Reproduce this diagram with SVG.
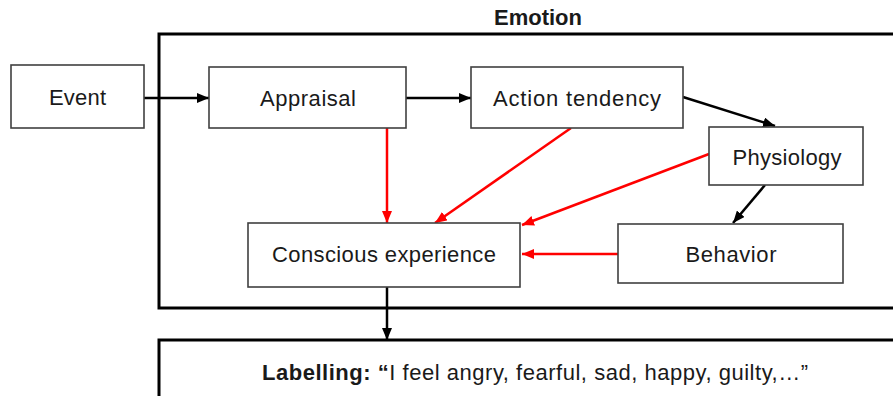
<svg xmlns="http://www.w3.org/2000/svg" width="893" height="396" viewBox="0 0 893 396">
<style>
.node{fill:#fff;stroke:#404040;stroke-width:1.6}
.frame{fill:none;stroke:#000;stroke-width:3}
.t{font-family:"Liberation Sans",Arial,sans-serif;font-size:22px;fill:#1a1a1a;text-anchor:middle}
.b{font-weight:bold}
.k{fill:none;stroke:#000;stroke-width:2.5}
.r{fill:none;stroke:#ff0000;stroke-width:2.5}
</style>
<defs>
<marker id="ak" viewBox="0 0 12 10" refX="12" refY="5" markerWidth="12" markerHeight="10" markerUnits="userSpaceOnUse" orient="auto"><path d="M0,0 L12,5 L0,10 z" fill="#000"/></marker>
<marker id="ar" viewBox="0 0 12 10" refX="12" refY="5" markerWidth="12" markerHeight="10" markerUnits="userSpaceOnUse" orient="auto"><path d="M0,0 L12,5 L0,10 z" fill="#ff0000"/></marker>
</defs>
<g id="emotion">
<rect class="frame" x="159" y="34" width="760" height="274"/>
<text class="t b" x="538" y="25" textLength="88">Emotion</text>
</g>
<g id="labelling">
<rect class="frame" x="159" y="340" width="760" height="80"/>
<text class="t" x="535" y="380" textLength="546"><tspan class="b">Labelling: “</tspan>I feel angry, fearful, sad, happy, guilty,…”</text>
</g>
<g id="connectors">
<line class="k" x1="144" y1="98" x2="209" y2="98" marker-end="url(#ak)"/>
<line class="k" x1="406" y1="98" x2="471" y2="98" marker-end="url(#ak)"/>
<line class="k" x1="683" y1="97" x2="775" y2="126" marker-end="url(#ak)"/>
<line class="k" x1="765" y1="185" x2="733" y2="223" marker-end="url(#ak)"/>
<line class="k" x1="387" y1="287" x2="387" y2="340" marker-end="url(#ak)"/>
<line class="r" x1="387" y1="128" x2="387" y2="223" marker-end="url(#ar)"/>
<line class="r" x1="571" y1="128" x2="435" y2="223" marker-end="url(#ar)"/>
<line class="r" x1="709" y1="154" x2="522" y2="225" marker-end="url(#ar)"/>
<line class="r" x1="618" y1="254" x2="522" y2="254" marker-end="url(#ar)"/>
</g>
<g id="event">
<rect class="node" x="11" y="65" width="133" height="63"/>
<text class="t" x="77.5" y="105" textLength="57">Event</text>
</g>
<g id="appraisal">
<rect class="node" x="209" y="67" width="197" height="61"/>
<text class="t" x="308" y="106" textLength="96">Appraisal</text>
</g>
<g id="action-tendency">
<rect class="node" x="471" y="67" width="212" height="61"/>
<text class="t" x="577" y="106" textLength="168">Action tendency</text>
</g>
<g id="physiology">
<rect class="node" x="709" y="127" width="154" height="58"/>
<text class="t" x="787" y="165" textLength="109">Physiology</text>
</g>
<g id="conscious-experience">
<rect class="node" x="248" y="223" width="272" height="64"/>
<text class="t" x="384" y="262" textLength="224">Conscious experience</text>
</g>
<g id="behavior">
<rect class="node" x="618" y="224" width="225" height="59"/>
<text class="t" x="731" y="262" textLength="91">Behavior</text>
</g>
</svg>
